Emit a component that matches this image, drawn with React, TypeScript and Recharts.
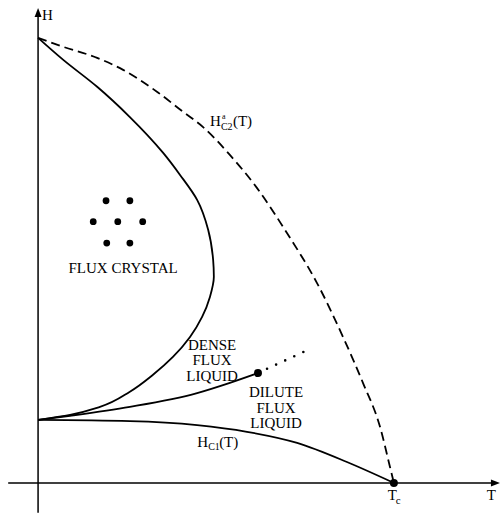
import { ComposedChart, Line, ReferenceDot, ReferenceLine, XAxis, YAxis } from 'recharts'

// reduced units: T / Tc and H / Hc2(0)
const hc2Curve = [
  { t: 0, h: 1 },
  { t: 0.07, h: 0.98 },
  { t: 0.166, h: 0.955 },
  { t: 0.239, h: 0.928 },
  { t: 0.334, h: 0.879 },
  { t: 0.407, h: 0.834 },
  { t: 0.463, h: 0.8 },
  { t: 0.539, h: 0.737 },
  { t: 0.615, h: 0.663 },
  { t: 0.699, h: 0.562 },
  { t: 0.784, h: 0.449 },
  { t: 0.857, h: 0.328 },
  { t: 0.913, h: 0.225 },
  { t: 0.961, h: 0.126 },
  { t: 0.989, h: 0.036 },
  { t: 1, h: 0 },
]

const meltingCurve = [
  { t: 0, h: 1 },
  { t: 0.07, h: 0.951 },
  { t: 0.166, h: 0.89 },
  { t: 0.258, h: 0.822 },
  { t: 0.351, h: 0.742 },
  { t: 0.399, h: 0.692 },
  { t: 0.447, h: 0.636 },
  { t: 0.478, h: 0.569 },
  { t: 0.492, h: 0.501 },
  { t: 0.494, h: 0.463 },
  { t: 0.483, h: 0.418 },
  { t: 0.461, h: 0.373 },
  { t: 0.427, h: 0.328 },
  { t: 0.379, h: 0.283 },
  { t: 0.323, h: 0.243 },
  { t: 0.258, h: 0.205 },
  { t: 0.174, h: 0.171 },
  { t: 0.09, h: 0.153 },
  { t: 0, h: 0.1416 },
]

const crossoverCurve = [
  { t: 0, h: 0.1416 },
  { t: 0.09, h: 0.151 },
  { t: 0.258, h: 0.171 },
  { t: 0.447, h: 0.202 },
  { t: 0.539, h: 0.225 },
  { t: 0.618, h: 0.247 },
]

const crossoverExtension = [
  { t: 0.618, h: 0.247 },
  { t: 0.764, h: 0.301 },
]

const hc1Curve = [
  { t: 0, h: 0.1416 },
  { t: 0.258, h: 0.139 },
  { t: 0.447, h: 0.13 },
  { t: 0.587, h: 0.115 },
  { t: 0.728, h: 0.09 },
  { t: 0.868, h: 0.047 },
  { t: 1, h: 0 },
]

const latticeDots = [
  { t: 0.191, h: 0.634 },
  { t: 0.258, h: 0.634 },
  { t: 0.155, h: 0.587 },
  { t: 0.224, h: 0.587 },
  { t: 0.294, h: 0.587 },
  { t: 0.193, h: 0.539 },
  { t: 0.258, h: 0.539 },
]

const criticalPoint = { t: 0.618, h: 0.247 }
const tcPoint = { t: 1, h: 0 }

const FONT = '"Liberation Serif", "Times New Roman", serif'
const textStyle = { fontFamily: FONT }

const Lines = ({ lines, anchor }: { lines: string[]; anchor: 'start' | 'middle' }) => (p: any) => (
  <text x={p.cx} y={p.cy} textAnchor={anchor} style={textStyle} fontSize={15} fill="#000">
    {lines.map((s, i) => (
      <tspan key={s} x={p.cx} dy={i === 0 ? 0 : 15.5}>
        {s}
      </tspan>
    ))}
  </text>
)

const Hc2Label = (p: any) => (
  <g style={textStyle} fill="#000">
    <text x={p.cx} y={p.cy} fontSize={15}>H</text>
    <text x={p.cx + 12} y={p.cy - 7} fontSize={8}>a</text>
    <text x={p.cx + 11} y={p.cy + 4} fontSize={10}>C2</text>
    <text x={p.cx + 23} y={p.cy} fontSize={15}>(T)</text>
  </g>
)

const Hc1Label = (p: any) => (
  <g style={textStyle} fill="#000">
    <text x={p.cx} y={p.cy} fontSize={15}>H</text>
    <text x={p.cx + 11} y={p.cy + 3} fontSize={10}>C1</text>
    <text x={p.cx + 22} y={p.cy} fontSize={15}>(T)</text>
  </g>
)

const TcLabel = (p: any) => (
  <g style={textStyle} fill="#000">
    <text x={p.cx} y={p.cy} fontSize={15}>T</text>
    <text x={p.cx + 8} y={p.cy + 4} fontSize={11}>c</text>
  </g>
)

const PlainLabel = (s: string) => (p: any) => (
  <text x={p.cx} y={p.cy} style={textStyle} fontSize={15} fill="#000">
    {s}
  </text>
)

const ArrowRight = (p: any) => (
  <polygon points={`${p.cx},${p.cy} ${p.cx - 9},${p.cy - 3.5} ${p.cx - 9},${p.cy + 3.5}`} fill="#000" />
)

const ArrowUp = (p: any) => (
  <polygon points={`${p.cx},${p.cy} ${p.cx - 3.5},${p.cy + 9} ${p.cx + 3.5},${p.cy + 9}`} fill="#000" />
)

export default function App() {
  return (
    <div style={{ position: 'absolute', left: 0, top: 0, width: 501, height: 515, background: '#fff' }}>
      <ComposedChart width={501} height={515} margin={{ top: 0, right: 0, bottom: 0, left: 0 }}>
        <XAxis type="number" dataKey="t" domain={[-0.107, 1.301]} hide allowDataOverflow />
        <YAxis type="number" dataKey="h" domain={[-0.072, 1.085]} hide allowDataOverflow />

        <ReferenceLine
          segment={[
            { x: -0.084, y: 0 },
            { x: 1.29, y: 0 },
          ]}
          stroke="#000"
          strokeWidth={1.5}
        />
        <ReferenceLine
          segment={[
            { x: 0, y: -0.067 },
            { x: 0, y: 1.06 },
          ]}
          stroke="#000"
          strokeWidth={1.5}
        />
        <ReferenceDot x={1.298} y={0} r={0} shape={ArrowRight} />
        <ReferenceDot x={0} y={1.067} r={0} shape={ArrowUp} />

        <Line data={hc2Curve} dataKey="h" type="monotone" stroke="#000" strokeWidth={1.8} strokeDasharray="9 5" dot={false} activeDot={false} isAnimationActive={false} />
        <Line data={meltingCurve} dataKey="h" type="monotoneY" stroke="#000" strokeWidth={1.8} dot={false} activeDot={false} isAnimationActive={false} />
        <Line data={crossoverCurve} dataKey="h" type="monotone" stroke="#000" strokeWidth={1.8} dot={false} activeDot={false} isAnimationActive={false} />
        <Line
          data={crossoverExtension}
          dataKey="h"
          type="linear"
          stroke="#000"
          strokeWidth={2.6}
          strokeLinecap="round"
          strokeDasharray="0 10"
          dot={false}
          activeDot={false}
          isAnimationActive={false}
        />
        <Line data={hc1Curve} dataKey="h" type="monotone" stroke="#000" strokeWidth={1.8} dot={false} activeDot={false} isAnimationActive={false} />

        {latticeDots.map((d, i) => (
          <ReferenceDot key={i} x={d.t} y={d.h} r={3.4} fill="#000" stroke="none" />
        ))}
        <ReferenceDot x={criticalPoint.t} y={criticalPoint.h} r={4} fill="#000" stroke="none" />
        <ReferenceDot x={tcPoint.t} y={tcPoint.h} r={4} fill="#000" stroke="none" />

        <ReferenceDot x={0.239} y={0.472} r={0} shape={Lines({ lines: ['FLUX CRYSTAL'], anchor: 'middle' })} />
        <ReferenceDot x={0.489} y={0.299} r={0} shape={Lines({ lines: ['DENSE', 'FLUX', 'LIQUID'], anchor: 'middle' })} />
        <ReferenceDot x={0.669} y={0.193} r={0} shape={Lines({ lines: ['DILUTE', 'FLUX', 'LIQUID'], anchor: 'middle' })} />
        <ReferenceDot x={0.483} y={0.803} r={0} shape={Hc2Label} />
        <ReferenceDot x={0.447} y={0.081} r={0} shape={Hc1Label} />
        <ReferenceDot x={0.983} y={-0.038} r={0} shape={TcLabel} />
        <ReferenceDot x={1.261} y={-0.038} r={0} shape={PlainLabel('T')} />
        <ReferenceDot x={0.011} y={1.04} r={0} shape={PlainLabel('H')} />
      </ComposedChart>
    </div>
  )
}
